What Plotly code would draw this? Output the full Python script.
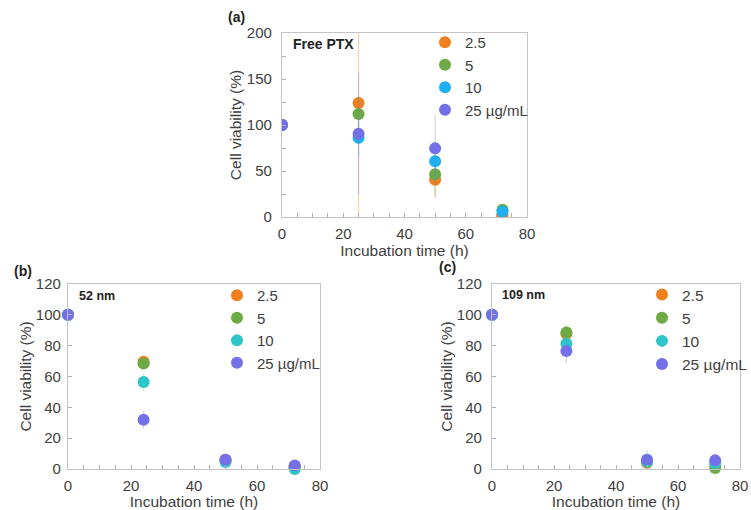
import plotly.graph_objects as go

W, H = 751, 510

series_names = ["2.5", "5", "10", "25 µg/mL"]

# Panel (a) Free PTX
time_a = [0, 25, 50, 72]
a_vals = {
    "2.5": [100, 124, 40.6, 2.5],
    "5": [100, 112, 46.4, 8],
    "10": [100, 86, 60.5, 6],
    "25 µg/mL": [100, 90.6, 74.6, None],
}
a_err = {
    "2.5": [0, 125, 20, 2],
    "5": [0, 20, 25, 2],
    "10": [0, 20, 20, 2],
    "25 µg/mL": [0, 66, 37, 0],
}

# Panel (b) 52 nm
time_b = [0, 24, 50, 72]
b_vals = {
    "2.5": [100, 69.6, 6, 1],
    "5": [100, 68.5, 5.5, 1],
    "10": [100, 56.4, 4.5, 0],
    "25 µg/mL": [100, 32, 6, 2.2],
}
b_err = {
    "2.5": [0, 3, 2, 1],
    "5": [0, 3, 2, 1],
    "10": [0, 6, 2, 1],
    "25 µg/mL": [0, 6, 3, 1],
}

# Panel (c) 109 nm
time_c = [0, 24, 50, 72]
c_vals = {
    "2.5": [100, 87.7, 4, 1.3],
    "5": [100, 88.6, 4.5, 0.6],
    "10": [100, 81.3, 5, 3.9],
    "25 µg/mL": [100, 76.6, 6, 5.6],
}
c_err = {
    "2.5": [0, 5, 2, 1],
    "5": [0, 5, 2, 1],
    "10": [0, 4, 2, 1],
    "25 µg/mL": [0, 8, 6, 1],
}

colors_a = ["#F07F1E", "#6DAA45", "#1EB0F0", "#7470E8"]
colors_bc = ["#F07F1E", "#6DAA45", "#2EC5C9", "#7470E8"]
err_a = ["rgba(240,127,30,0.35)", "rgba(109,170,69,0.3)", "rgba(30,176,240,0.3)", "rgba(116,112,232,0.3)"]
err_bc = ["rgba(240,127,30,0.3)", "rgba(109,170,69,0.3)", "rgba(46,197,201,0.3)", "rgba(116,112,232,0.3)"]

FONT = "Liberation Sans, Arial, sans-serif"
fig = go.Figure()

panels = [
    ("x", "y", "legend", time_a, a_vals, a_err, colors_a, err_a, True),
    ("x2", "y2", "legend2", time_b, b_vals, b_err, colors_bc, err_bc, False),
    ("x3", "y3", "legend3", time_c, c_vals, c_err, colors_bc, err_bc, False),
]
for xa, ya, lg, t, vals, errs, cols, ecols, clip in panels:
    for i, name in enumerate(series_names):
        fig.add_trace(go.Scatter(
            x=t, y=vals[name], mode="markers", name=name,
            xaxis=xa, yaxis=ya, legend=lg,
            marker=dict(size=12, color=cols[i]),
            error_y=dict(type="data", array=errs[name], visible=True,
                         color=ecols[i], thickness=1.2, width=0),
            cliponaxis=clip,
        ))

def px2x(p):
    return p / W

def px2y(p):
    return 1 - p / H

doms = {
    "a": ([px2x(282), px2x(527)], [px2y(217), px2y(33)]),
    "b": ([px2x(68), px2x(320)], [px2y(469), px2y(284)]),
    "c": ([px2x(492), px2x(740)], [px2y(469), px2y(284)]),
}

axis_common = dict(
    showgrid=False, zeroline=False, showline=True, mirror=True,
    linecolor="#C4C4C4", linewidth=1.3, ticks="inside", tickcolor="#B0B0B0",
    ticklen=4, tickfont=dict(family=FONT, size=15, color="#404040"),
)
title_font = dict(family=FONT, size=15.5, color="#404040")

def xax(dom, anchor, so):
    return dict(axis_common, domain=dom, anchor=anchor, range=[0, 80], dtick=20,
                minor=dict(dtick=5, ticks="inside", ticklen=4, tickcolor="#B0B0B0"),
                title=dict(text="Incubation time (h)", font=title_font, standoff=so),
                ticklabelstandoff=3)

def yax(dom, anchor, rng, dt, mdt, so, lso):
    return dict(axis_common, domain=dom, anchor=anchor, range=rng, dtick=dt,
                minor=dict(dtick=mdt, ticks="inside", ticklen=4, tickcolor="#B0B0B0"),
                title=dict(text="Cell viability (%)", font=title_font, standoff=so),
                ticklabelstandoff=lso)

legend_common = dict(bgcolor="rgba(0,0,0,0)", xanchor="left", yanchor="top",
                     itemwidth=30, tracegroupgap=0)
lfont = dict(family=FONT, size=15, color="#404040")

fig.update_layout(
    width=W, height=H, margin=dict(l=0, r=0, t=0, b=0, autoexpand=False),
    paper_bgcolor="white", plot_bgcolor="white",
    xaxis=xax(doms["a"][0], "y", 2), yaxis=yax(doms["a"][1], "x", [0, 200], 50, 25, 1, 6),
    xaxis2=xax(doms["b"][0], "y2", 0), yaxis2=yax(doms["b"][1], "x2", [0, 120], 20, 20, 0, 3),
    xaxis3=xax(doms["c"][0], "y3", 0), yaxis3=yax(doms["c"][1], "x3", [0, 120], 20, 20, 0, 6),
    legend=dict(legend_common, font=lfont, x=px2x(425), y=px2y(26)),
    legend2=dict(legend_common, font=lfont, x=px2x(217), y=px2y(279)),
    legend3=dict(legend_common, font=dict(lfont, size=15.5), x=px2x(642), y=px2y(278)),
    annotations=[
        dict(text="<b>(a)</b>", x=px2x(226), y=px2y(17), xref="paper", yref="paper",
             showarrow=False, xanchor="left", yanchor="middle",
             font=dict(family=FONT, size=14, color="#222")),
        dict(text="<b>(b)</b>", x=px2x(12), y=px2y(271), xref="paper", yref="paper",
             showarrow=False, xanchor="left", yanchor="middle",
             font=dict(family=FONT, size=14, color="#222")),
        dict(text="<b>(c)</b>", x=px2x(437), y=px2y(267), xref="paper", yref="paper",
             showarrow=False, xanchor="left", yanchor="middle",
             font=dict(family=FONT, size=14, color="#222")),
        dict(text="<b>Free PTX</b>", x=px2x(291), y=px2y(44), xref="paper", yref="paper",
             showarrow=False, xanchor="left", yanchor="middle",
             font=dict(family=FONT, size=14, color="#222")),
        dict(text="<b>52 nm</b>", x=px2x(77), y=px2y(296), xref="paper", yref="paper",
             showarrow=False, xanchor="left", yanchor="middle",
             font=dict(family=FONT, size=12.5, color="#222")),
        dict(text="<b>109 nm</b>", x=px2x(500), y=px2y(295), xref="paper", yref="paper",
             showarrow=False, xanchor="left", yanchor="middle",
             font=dict(family=FONT, size=12.5, color="#222")),
    ],
)

fig.write_html("out.html")
